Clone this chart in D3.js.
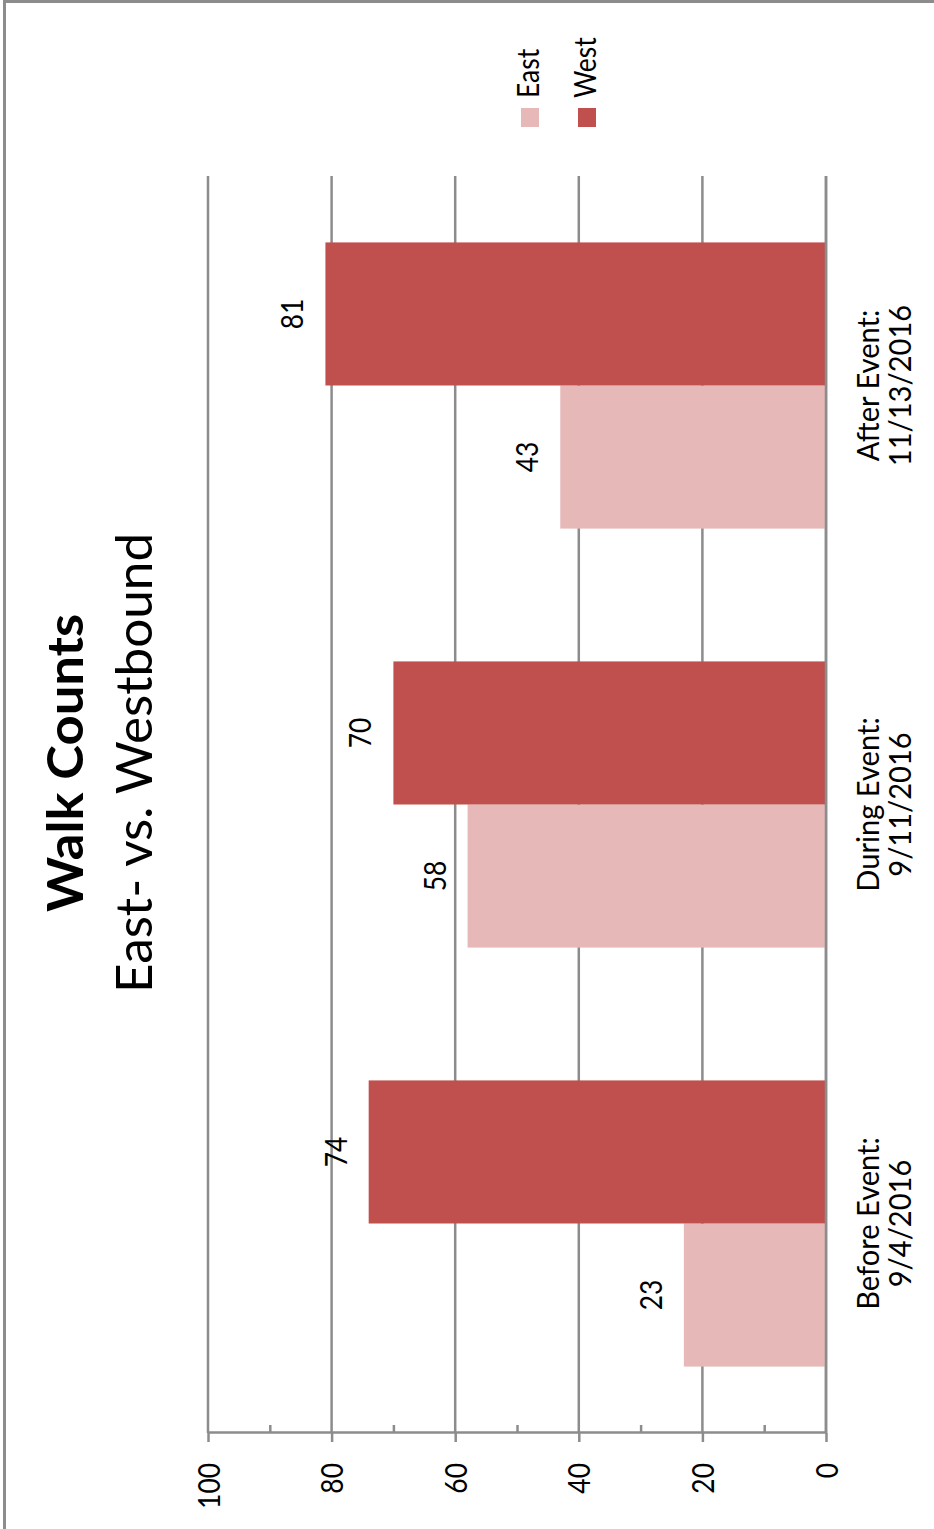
<!DOCTYPE html>
<html><head><meta charset="utf-8">
<script src="https://cdn.jsdelivr.net/npm/d3@7"></script>
<style>body{margin:0;background:#fff}svg{display:block}</style>
</head><body>
<svg id="c" width="934" height="1529"></svg>
<script>
// ---- data ----
const categoryLine1 = ["Before Event:", "During Event:", "After Event:"];
const categoryLine2 = ["9/4/2016", "9/11/2016", "11/13/2016"];
const seriesNames = ["East", "West"];
const eastValues = [23, 58, 43];
const westValues = [74, 70, 81];
const valueTicks = [0, 20, 40, 60, 80, 100];
const minorTicks = [10, 30, 50, 70, 90];
const titleText = "Walk Counts";
const subtitleText = "East- vs. Westbound";

// ---- styling ----
const W = 1529; // unrotated chart width (screen height)
const colors = { East: "#E6B9B8", West: "#C0504D" };
const gridColor = "#8C8C8C";
const FONT = "Lato, 'Open Sans', sans-serif";
const SX = 0.88;   // horizontal condensing of numbers / legend
const CSX = 0.97;  // category label condensing
const TSX = 1.05;  // title
const SSX = 1.025; // subtitle

const svg = d3.select("#c");
const g = svg.append("g").attr("transform", `translate(0,${W}) rotate(-90)`);

// chart border
g.append("rect").attr("x", -5).attr("y", 4.5).attr("width", 1532.5).attr("height", 940)
  .attr("fill", "none").attr("stroke", gridColor).attr("stroke-width", 3);

const plotL = 96, plotR = 1353;
const y = d3.scaleLinear().domain([0, 100]).range([826, 208]);
const x0 = d3.scaleBand().domain(d3.range(categoryLine1.length)).range([plotL, plotR])
  .paddingInner(0.317).paddingOuter(0.1585);
const x1 = d3.scaleBand().domain(seriesNames).range([0, x0.bandwidth()]);

// gridlines
g.append("g").selectAll("line").data(valueTicks).join("line")
  .attr("x1", plotL).attr("x2", plotR)
  .attr("y1", d => y(d)).attr("y2", d => y(d))
  .attr("stroke", gridColor).attr("stroke-width", 2.5);

// value axis (major ticks outward + labels)
const axis = g.append("g").attr("transform", `translate(${plotL},0)`)
  .call(d3.axisLeft(y).tickValues(valueTicks).tickSize(9).tickSizeOuter(0).tickPadding(21));
axis.select(".domain").attr("stroke", gridColor).attr("stroke-width", 2.5);
axis.selectAll(".tick line").attr("stroke", gridColor).attr("stroke-width", 2.5);
axis.selectAll(".tick text")
  .attr("font-family", FONT).attr("font-size", 30).attr("fill", "#000").attr("dy", "0.37em")
  .each(function () {
    const t = d3.select(this); const xx = +t.attr("x");
    t.attr("x", 0).attr("transform", `translate(${xx},0) scale(${SX},1)`);
  });

// minor ticks inward
const minor = g.append("g").attr("transform", `translate(${plotL},0)`)
  .call(d3.axisRight(y).tickValues(minorTicks).tickSize(8).tickFormat(""));
minor.select(".domain").remove();
minor.selectAll(".tick line").attr("stroke", gridColor).attr("stroke-width", 2.5);

// bars
const rows = categoryLine1.map((c, i) => ({ i, East: eastValues[i], West: westValues[i] }));
const grp = g.append("g").selectAll("g").data(rows).join("g")
  .attr("transform", d => `translate(${x0(d.i)},0)`);
grp.selectAll("rect").data(d => seriesNames.map(s => ({ s, v: d[s] }))).join("rect")
  .attr("x", d => x1(d.s)).attr("width", x1.bandwidth())
  .attr("y", d => y(d.v)).attr("height", d => y(0) - y(d.v))
  .attr("fill", d => colors[d.s]);

// data labels
grp.selectAll("text.val").data(d => seriesNames.map(s => ({ s, v: d[s] }))).join("text")
  .attr("class", "val")
  .attr("transform", d => `translate(${x1(d.s) + x1.bandwidth() / 2},${y(d.v) - 22}) scale(${SX},1)`)
  .attr("text-anchor", "middle").attr("font-family", FONT).attr("font-size", 30).attr("fill", "#000")
  .text(d => d.v);

// zero line drawn on top
g.append("line").attr("x1", plotL).attr("x2", plotR).attr("y1", y(0)).attr("y2", y(0))
  .attr("stroke", gridColor).attr("stroke-width", 2.5);

// category labels
const cat = g.append("g").selectAll("text").data(d3.range(categoryLine1.length)).join("text")
  .attr("transform", i => `translate(${x0(i) + x0.bandwidth() / 2},0) scale(${CSX},1)`)
  .attr("text-anchor", "middle").attr("font-family", FONT).attr("font-size", 30).attr("fill", "#000");
cat.append("tspan").attr("x", 0).attr("y", 879).text(i => categoryLine1[i]);
cat.append("tspan").attr("x", 0).attr("y", 911).text(i => categoryLine2[i]);

// title
g.append("text").attr("transform", `translate(766,83) scale(${TSX},1)`)
  .attr("text-anchor", "middle").attr("font-family", FONT).attr("font-weight", "bold")
  .attr("font-size", 50).attr("fill", "#000").text(titleText);
g.append("text").attr("transform", `translate(766,152) scale(${SSX},1)`)
  .attr("text-anchor", "middle").attr("font-family", FONT)
  .attr("font-size", 50).attr("fill", "#000").text(subtitleText);

// legend
const leg = g.append("g").selectAll("g").data(seriesNames).join("g")
  .attr("transform", (d, i) => `translate(1402,${521 + i * 57})`);
leg.append("rect").attr("width", 19).attr("height", 18).attr("fill", d => colors[d]);
leg.append("text").attr("transform", `translate(29,18) scale(${SX},1)`)
  .attr("font-family", FONT).attr("font-size", 30).attr("fill", "#000").text(d => d);
</script>
</body></html>
